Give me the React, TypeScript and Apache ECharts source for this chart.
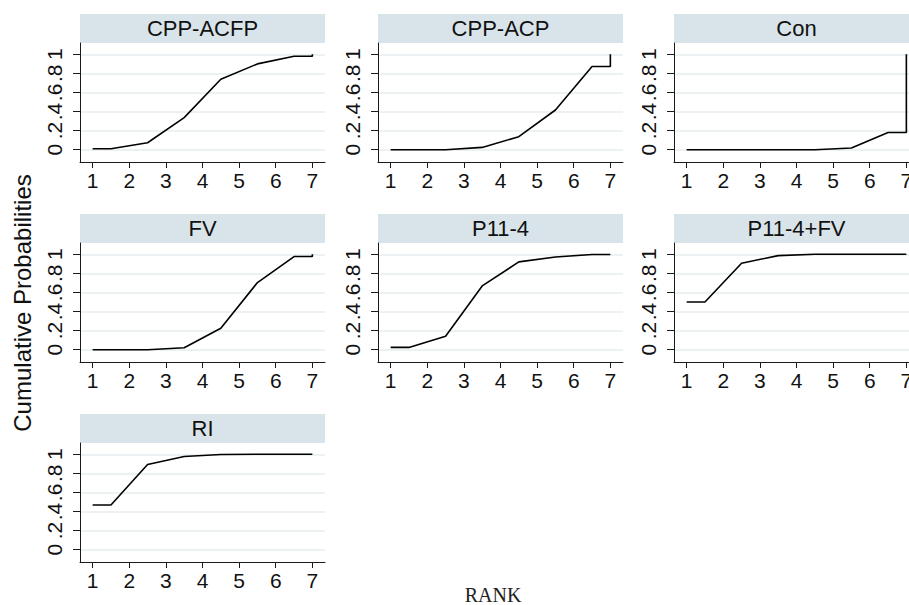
import React, { useEffect, useRef } from "react";
import * as echarts from "echarts";

// ---- data ----
const treatments = ["CPP-ACFP", "CPP-ACP", "Con", "FV", "P11-4", "P11-4+FV", "RI"];
const rankPositions = [1, 1.5, 2.5, 3.5, 4.5, 5.5, 6.5, 7, 7];
const cppAcfp = [0.01, 0.01, 0.073, 0.336, 0.738, 0.899, 0.979, 0.979, 1];
const cppAcp = [0, 0, 0, 0.024, 0.136, 0.416, 0.871, 0.871, 1];
const con = [0, 0, 0, 0, 0, 0.017, 0.18, 0.18, 1];
const fv = [0, 0, 0, 0.021, 0.224, 0.703, 0.976, 0.976, 1];
const p114 = [0.024, 0.024, 0.14, 0.668, 0.92, 0.972, 0.997, 0.997, 1];
const p114fv = [0.5, 0.5, 0.906, 0.986, 1, 1, 1, 1, 1];
const ri = [0.469, 0.469, 0.892, 0.976, 0.997, 1, 1, 1, 1];
const seriesValues = [cppAcfp, cppAcp, con, fv, p114, p114fv, ri];
const rankTicks = [1, 2, 3, 4, 5, 6, 7];
const probTicks = [0, 0.2, 0.4, 0.6, 0.8, 1];
const probTickLabels = ["0", ".2", ".4", ".6", ".8", "1"];
const xTitle = "RANK";
const yTitle = "Cumulative Probabilities";

// ---- layout ----
const colLeft = [80, 378, 674];
const rowTop = [43, 243, 443];
const panelW = 245;
const panelH = 119;
const stripH = 29;
const SANS = "'Liberation Sans', Arial, sans-serif";

export default function App() {
  const ref = useRef<HTMLDivElement>(null);
  useEffect(() => {
    if (!ref.current) return;
    const chart = echarts.init(ref.current, undefined, { renderer: "svg" });
    const grids: any[] = [];
    const xAxes: any[] = [];
    const yAxes: any[] = [];
    const series: any[] = [];
    const graphics: any[] = [];
    treatments.forEach((name, i) => {
      const left = colLeft[i % 3];
      const top = rowTop[Math.floor(i / 3)];
      grids.push({ left, top, width: panelW, height: panelH, containLabel: false, outerBoundsMode: "none" });
      xAxes.push({
        type: "value",
        gridIndex: i,
        min: 0.655,
        max: 7.345,
        axisLine: { show: true, onZero: false, lineStyle: { color: "#1a1a1a", width: 1 } },
        axisTick: { show: true, length: 6, customValues: rankTicks, lineStyle: { color: "#1a1a1a" } },
        axisLabel: { show: true, customValues: rankTicks, margin: 8, fontSize: 21, fontFamily: SANS, color: "#111" },
        splitLine: { show: false },
      });
      yAxes.push({
        type: "value",
        gridIndex: i,
        min: -0.129,
        max: 1.118,
        axisLine: { show: true, onZero: false, lineStyle: { color: "#1a1a1a", width: 1 } },
        axisTick: { show: true, length: 7, customValues: probTicks, lineStyle: { color: "#1a1a1a" } },
        axisLabel: {
          show: true,
          customValues: probTicks,
          rotate: 90,
          margin: 15,
          fontSize: 21,
          fontFamily: SANS,
          color: "#111",
          formatter: (v: number) => {
            const k = probTicks.findIndex((t) => Math.abs(t - v) < 1e-6);
            return k >= 0 ? probTickLabels[k] : "";
          },
        },
        splitLine: { show: true, lineStyle: { color: "#e6edf1", width: 1.5 } },
      });
      series.push({
        type: "line",
        xAxisIndex: i,
        yAxisIndex: i,
        data: rankPositions.map((x, k) => [x, seriesValues[i][k]]),
        showSymbol: false,
        symbol: "none",
        lineStyle: { color: "#000", width: 1.6 },
        clip: false,
      });
      graphics.push({
        type: "rect",
        shape: { x: left, y: top - stripH, width: panelW, height: stripH },
        style: { fill: "#d9e4ea" },
        silent: true,
      });
      graphics.push({
        type: "text",
        x: left + panelW / 2,
        y: top - stripH / 2,
        style: { text: name, fontSize: 22, fontFamily: SANS, fill: "#111", align: "center", verticalAlign: "middle" },
        silent: true,
      });
    });
    graphics.push({
      type: "text",
      x: 22,
      y: 303,
      rotation: Math.PI / 2,
      style: { text: yTitle, fontSize: 24, fontFamily: SANS, fill: "#111", align: "center", verticalAlign: "middle" },
      silent: true,
    });
    graphics.push({
      type: "text",
      x: 493,
      y: 595,
      style: { text: xTitle, fontSize: 20, fontFamily: "'Liberation Serif', 'DejaVu Serif', serif", fill: "#222", align: "center", verticalAlign: "middle" },
      silent: true,
    });
    chart.setOption({
      animation: false,
      backgroundColor: "#ffffff",
      grid: grids,
      xAxis: xAxes,
      yAxis: yAxes,
      series,
      graphic: graphics,
    });
    return () => chart.dispose();
  }, []);
  return <div ref={ref} style={{ width: 909, height: 605, position: "absolute", left: 0, top: 0 }} />;
}
